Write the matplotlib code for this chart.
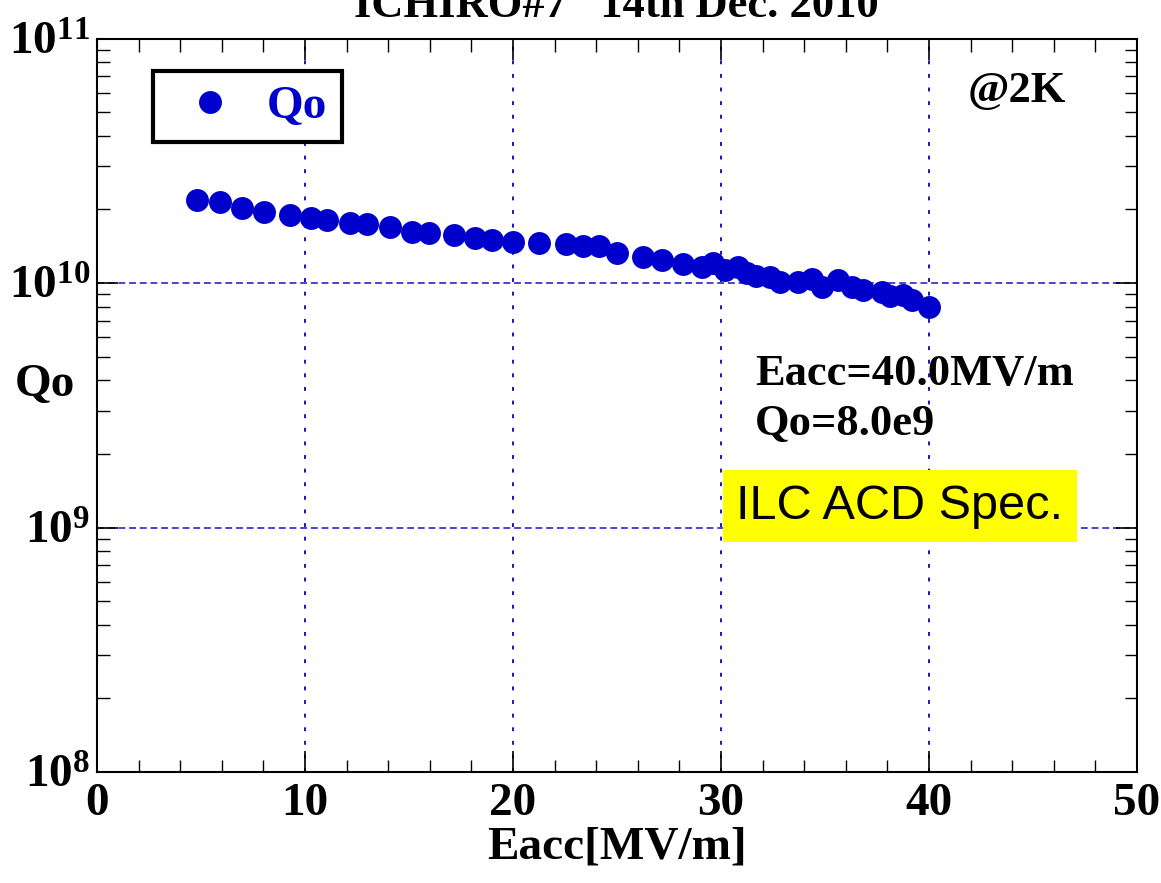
import matplotlib
matplotlib.use('Agg')
import matplotlib.pyplot as plt
from matplotlib.ticker import MultipleLocator, LogLocator, NullFormatter

# Qo vs Eacc
eacc = [4.81, 5.91, 6.97, 8.03, 9.28, 10.29, 11.06, 12.16, 12.98, 14.09,
        15.14, 15.96, 17.16, 18.17, 18.99, 20.0, 21.25, 22.55, 23.37, 24.13,
        25.0, 26.25, 27.16, 28.17, 29.09, 29.62, 30.19, 30.82, 31.25, 31.68,
        32.36, 32.84, 33.7, 34.38, 34.86, 35.63, 36.3, 36.83, 37.74, 38.13,
        38.75, 39.18, 40.0]
qo = [2.19e10, 2.14e10, 2.03e10, 1.95e10, 1.90e10, 1.84e10, 1.81e10,
      1.76e10, 1.74e10, 1.69e10, 1.62e10, 1.60e10, 1.57e10, 1.53e10,
      1.50e10, 1.47e10, 1.46e10, 1.44e10, 1.42e10, 1.42e10, 1.33e10,
      1.28e10, 1.24e10, 1.20e10, 1.16e10, 1.21e10, 1.13e10, 1.16e10,
      1.10e10, 1.07e10, 1.06e10, 1.01e10, 1.01e10, 1.04e10, 9.63e9,
      1.03e10, 9.63e9, 9.4e9, 9.2e9, 8.85e9, 8.93e9, 8.52e9, 8.0e9]

title = 'ICHIRO#7   14th Dec. 2010'
blue = '#0000cc'
grid_blue = '#1515c0'

plt.rcParams['font.family'] = ['Liberation Serif', 'DejaVu Serif']
plt.rcParams['font.weight'] = 'bold'
plt.rcParams['axes.labelweight'] = 'bold'

fig = plt.figure(figsize=(11.61, 8.83), dpi=100)
ax = fig.add_axes([0.0835, 0.1257, 0.8958, 0.8306])

ax.plot(eacc, qo, 'o', color=blue, markersize=16.5, markeredgewidth=0,
        label='Qo', zorder=3)

ax.set_yscale('log')
ax.set_xlim(0, 50)
ax.set_ylim(1e8, 1e11)

ax.xaxis.set_major_locator(MultipleLocator(10))
ax.xaxis.set_minor_locator(MultipleLocator(2))
ax.yaxis.set_major_locator(LogLocator(base=10))
ax.yaxis.set_minor_locator(LogLocator(base=10, subs=range(2, 10)))
ax.yaxis.set_minor_formatter(NullFormatter())

ax.tick_params(which='both', direction='in', top=True, right=True,
               color='black')
ax.tick_params(which='major', length=15, width=1.2, labelsize=34)
ax.tick_params(which='minor', length=9, width=1.0)
ax.tick_params(axis='x', pad=8)
ax.tick_params(axis='y', pad=5)

for s in ax.spines.values():
    s.set_linewidth(1.5)

# dotted verticals, dashed horizontals
ax.xaxis.grid(True, which='major', color=grid_blue,
              linestyle=(0, (2, 5)), linewidth=1.4)
ax.yaxis.grid(True, which='major', color=grid_blue,
              linestyle=(0, (4.5, 2.5)), linewidth=1.1)

ax.set_xlabel('Eacc[MV/m]', fontsize=34, fontweight='bold', va='center')
ax.xaxis.set_label_coords(0.5, -0.103)
ax.set_ylabel('Qo', fontsize=34, fontweight='bold', rotation=0,
              ha='center', va='center')
ax.yaxis.set_label_coords(-0.05, 0.528)

leg = ax.legend(loc='upper left', bbox_to_anchor=(0.0538, 0.9557),
                borderaxespad=0, frameon=True, fancybox=False,
                edgecolor='black', framealpha=1, borderpad=0.3,
                handlelength=1.8, handletextpad=0.32, numpoints=1,
                labelcolor=blue, prop={'size': 34, 'weight': 'bold'})
leg.get_frame().set_linewidth(3)

ax.text(0.8375, 0.9134, '@2K', transform=ax.transAxes, fontsize=32,
        va='baseline')
ax.text(0.6327, 0.5276, 'Eacc=40.0MV/m', transform=ax.transAxes,
        fontsize=32, va='baseline')
ax.text(0.6327, 0.4594, 'Qo=8.0e9', transform=ax.transAxes,
        fontsize=32, va='baseline')
ax.text(0.772, 0.3626, 'ILC ACD Spec.', transform=ax.transAxes,
        fontsize=35, fontfamily='Liberation Sans', fontweight='normal',
        ha='center', va='center',
        bbox=dict(boxstyle='square,pad=0.27', facecolor='yellow',
                  edgecolor='none'))

fig.text(0.531, 0.9807, title, fontsize=32, ha='center', va='baseline')

fig.savefig('out.png', dpi=100)
